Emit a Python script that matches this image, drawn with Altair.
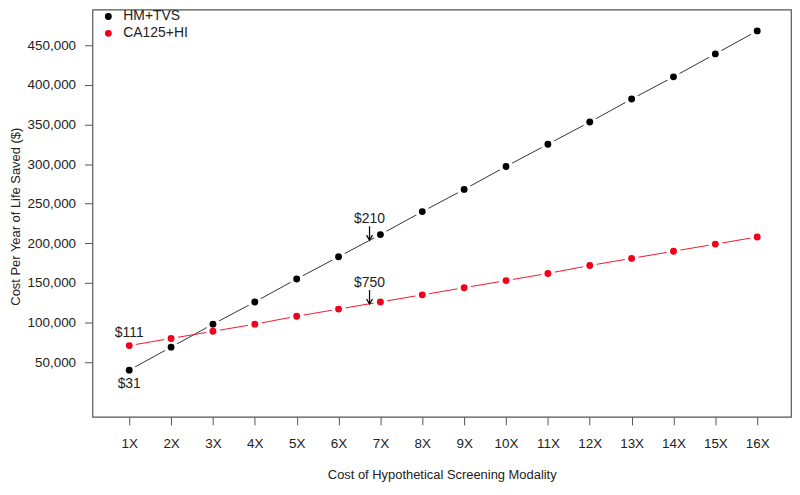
import json
import altair as alt
import pandas as pd

# ---- data ----
multipliers = list(range(1, 17))
x_labels = [f"{m}X" for m in multipliers]
hm_tvs = [40000, 69000, 98000, 126000, 155000, 183000, 211000, 240000,
          268000, 297000, 325000, 353000, 382000, 410000, 439000, 468000]
ca125_hi = [71000, 80000, 89000, 98000, 108000, 117000, 126000, 135000,
            144000, 153000, 162000, 172000, 181000, 190000, 199000, 208000]
series_names = ["HM+TVS", "CA125+HI"]
series_colors = ["#000000", "#f0001a"]
line_colors = ["#333333", "#f5162e"]
y_ticks = [50000, 100000, 150000, 200000, 250000, 300000, 350000, 400000, 450000]

# point annotations (label under / over first points)
pt_labels = ["$31", "$111"]
pt_x = [1, 1]
pt_y = [40000, 71000]
pt_place = ["below", "above"]

# arrow annotations (threshold costs)
arr_labels = ["$210", "$750"]
arr_x = [6.74, 6.74]
arr_y = [204000, 123500]

FONT = "Liberation Sans"

rows = []
for name, vals in zip(series_names, [hm_tvs, ca125_hi]):
    for m, v in zip(multipliers, vals):
        rows.append({"mult": m, "series": name, "value": v})
df = pd.DataFrame(rows)

pt_df = pd.DataFrame({"label": pt_labels, "x": pt_x, "y": pt_y, "place": pt_place})
arr_df = pd.DataFrame({"label": arr_labels, "x": arr_x, "y": arr_y})

x_scale = alt.Scale(domain=[0.122, 16.807], nice=False, zero=False)
y_scale = alt.Scale(domain=[-19000, 495000], nice=False, zero=False)
color_scale = alt.Scale(domain=series_names, range=series_colors)

x_enc = alt.X(
    "mult:Q", scale=x_scale,
    axis=alt.Axis(
        values=multipliers,
        labelExpr=f"{json.dumps(x_labels)}[datum.value - 1]",
        title="Cost of Hypothetical Screening Modality",
        grid=False, domain=False, tickSize=8, tickColor="#555555",
        labelPadding=12, labelFontSize=13.5, labelFont=FONT, labelColor="#222222",
        titleFont=FONT, titleFontSize=13, titleFontWeight="normal", titleColor="#222222",
        titleY=58, titleBaseline="middle",
    ),
)
y_enc = alt.Y(
    "value:Q", scale=y_scale,
    axis=alt.Axis(
        values=y_ticks, format=",d",
        title="Cost Per Year of Life Saved ($)",
        grid=False, domain=False, tickSize=8, tickColor="#555555",
        labelPadding=9, labelFontSize=13.5, labelFont=FONT, labelColor="#222222",
        titleFont=FONT, titleFontSize=13, titleFontWeight="normal", titleColor="#222222",
        titleX=-77, titleY=208, titleBaseline="middle", titleAngle=-90,
    ),
)

base = alt.Chart(df)

line_layers = [
    base.transform_filter(alt.datum.series == name).mark_line(
        strokeWidth=1, color=lc
    ).encode(x=x_enc, y=y_enc)
    for name, lc in zip(series_names, line_colors)
]

halos = base.mark_circle(size=200, opacity=1, color="white").encode(
    x="mult:Q", y="value:Q",
)

dots = base.mark_circle(size=48, opacity=1).encode(
    x="mult:Q", y="value:Q",
    color=alt.Color(
        "series:N", scale=color_scale,
        legend=alt.Legend(
            title=None, orient="none", legendX=9, legendY=0,
            symbolType="circle", symbolSize=48, symbolStrokeWidth=0,
            labelFont=FONT, labelFontSize=14, labelColor="#222222",
            labelOffset=8, rowPadding=3, padding=0,
        ),
    ),
)

pt_base = alt.Chart(pt_df)
pt_below = pt_base.transform_filter(alt.datum.place == "below").mark_text(
    font=FONT, fontSize=14, color="#222222", baseline="middle", dy=14
).encode(x="x:Q", y="y:Q", text="label:N")
pt_above = pt_base.transform_filter(alt.datum.place == "above").mark_text(
    font=FONT, fontSize=14, color="#222222", baseline="middle", dy=-13
).encode(x="x:Q", y="y:Q", text="label:N")

arr_shaft = alt.Chart(arr_df).mark_rule(color="#111111", strokeWidth=1.3, y2Offset=-14).encode(
    x="x:Q", y="y:Q", y2="y:Q",
)
arr_head = alt.Chart(arr_df).mark_point(
    shape="M-0.6,-1L0,0L0.6,-1", size=100, filled=False,
    color="#111111", strokeWidth=1.3, opacity=1,
).encode(x="x:Q", y="y:Q")
arr_text = alt.Chart(arr_df).mark_text(
    font=FONT, fontSize=14, color="#222222", baseline="middle", dy=-21
).encode(x="x:Q", y="y:Q", text="label:N")

chart = alt.layer(
    *line_layers, halos, dots, pt_below, pt_above, arr_shaft, arr_head, arr_text
).properties(
    width=703, height=410,
    autosize=alt.AutoSizeParams(type="none"),
    padding={"left": 85, "top": 0, "right": 1, "bottom": 64},
    background="white",
).configure_view(
    stroke="#555555", strokeWidth=1.2,
)

chart.save("out.html", embed_options={"renderer": "svg", "actions": False})
